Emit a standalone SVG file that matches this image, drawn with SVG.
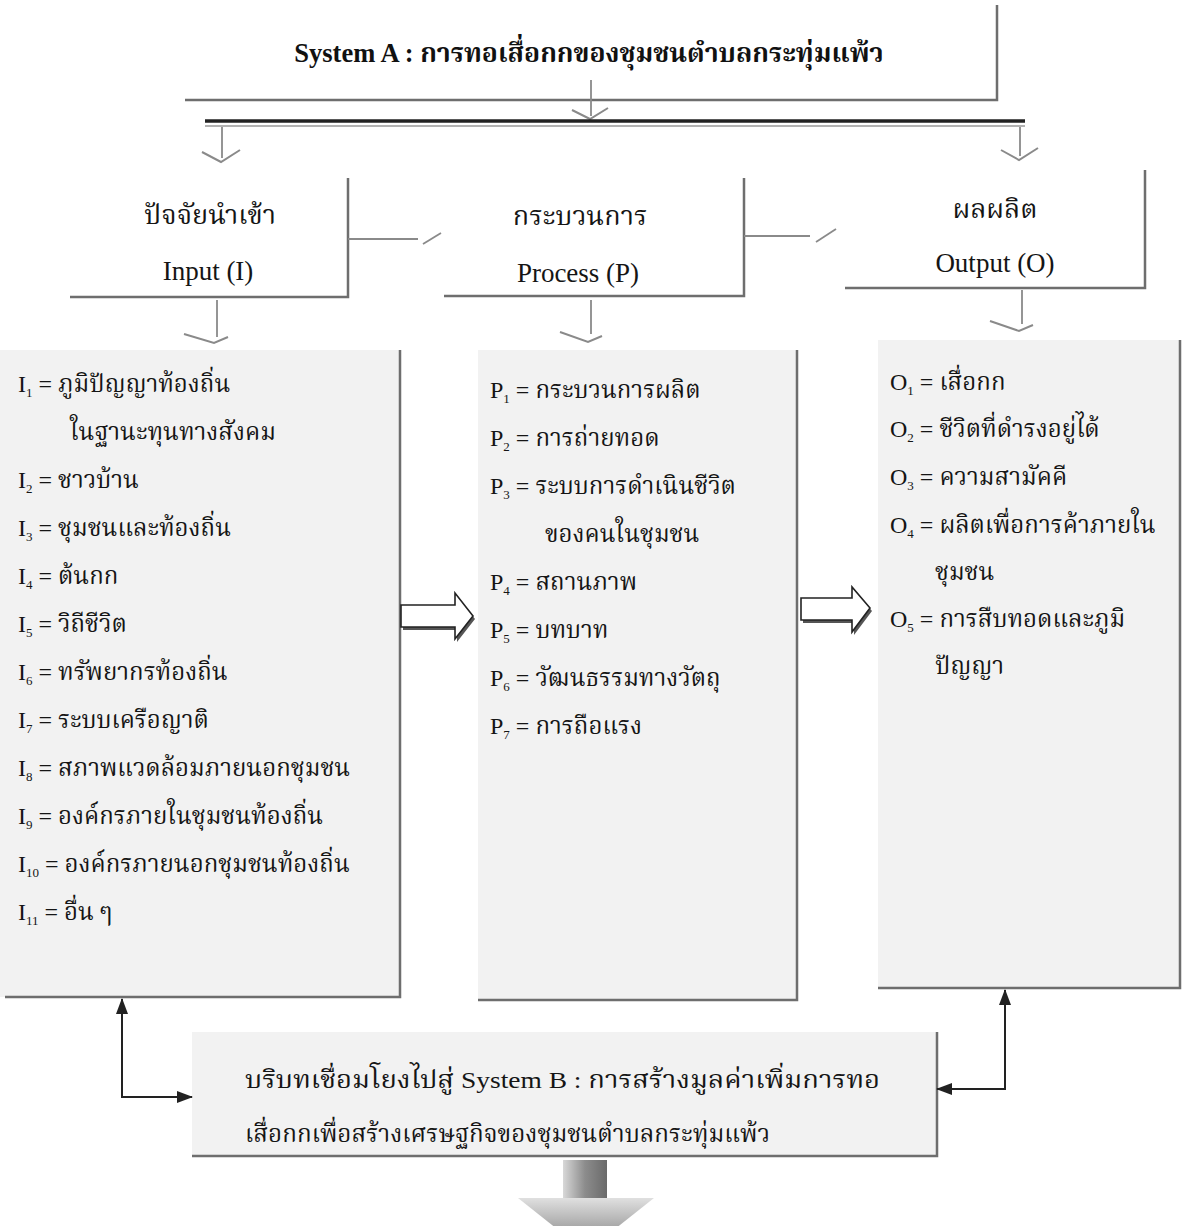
<svg xmlns="http://www.w3.org/2000/svg" width="1188" height="1226" viewBox="0 0 1188 1226">
<style>
.t{font-family:"Liberation Serif","Noto Serif Thai","Noto Sans Thai",serif;font-size:24px;fill:#151515}
.h{font-family:"Liberation Serif","Noto Serif Thai","Noto Sans Thai",serif;font-size:27px;fill:#151515}
.ti{font-family:"Liberation Serif","Noto Serif Thai","Noto Sans Thai",serif;font-size:26.5px;font-weight:bold;fill:#111}
.s{font-size:13px}
.edge{fill:none;stroke:#6e6e6e;stroke-width:2.5}
.bg{fill:#f2f2f2}
.ln{fill:none;stroke:#8a8a8a;stroke-width:1.8}
.chev{fill:none;stroke:#8a8a8a;stroke-width:2}
.blk{fill:none;stroke:#222;stroke-width:2}
</style>
<defs>
<marker id="ah" viewBox="0 0 16 12" refX="15" refY="6" markerWidth="16" markerHeight="12" orient="auto-start-reverse" markerUnits="userSpaceOnUse">
<path d="M0,0 L16,6 L0,12 z" fill="#222"/>
</marker>
<linearGradient id="ga" x1="0" y1="0" x2="1" y2="0">
<stop offset="0" stop-color="#d8d8d8"/><stop offset="0.5" stop-color="#8c8c8c"/><stop offset="1" stop-color="#6a6a6a"/>
</linearGradient>
<linearGradient id="gh" x1="0" y1="0" x2="0" y2="1">
<stop offset="0" stop-color="#e0e0e0"/><stop offset="1" stop-color="#777"/>
</linearGradient>
</defs>
<rect width="1188" height="1226" fill="#fff"/>

<g id="title">
<path class="edge" d="M997,5 V100 H185"/>
<text class="ti" x="589" y="62" text-anchor="middle">System A : การทอเสื่อกกของชุมชนตำบลกระทุ่มแพ้ว</text>
</g>

<g id="input-header">
<path class="edge" d="M348,178 V297 H70"/>
<text class="h" x="210" y="224" text-anchor="middle">ปัจจัยนำเข้า</text>
<text class="h" x="208" y="280" text-anchor="middle">Input (I)</text>
</g>
<g id="process-header">
<path class="edge" d="M744,178 V296 H444"/>
<text class="h" x="580" y="225" text-anchor="middle">กระบวนการ</text>
<text class="h" x="578" y="282" text-anchor="middle">Process (P)</text>
</g>
<g id="output-header">
<path class="edge" d="M1145,170 V288 H845"/>
<text class="h" x="995" y="218" text-anchor="middle">ผลผลิต</text>
<text class="h" x="995" y="272" text-anchor="middle">Output (O)</text>
</g>

<g id="input-list">
<rect class="bg" x="0" y="350" width="400" height="647"/>
<path class="edge" d="M400,350 V997 H5"/>
<text class="t" x="18" y="392">I<tspan class="s" dy="5">1</tspan><tspan dy="-5"> =  ภูมิปัญญาท้องถิ่น</tspan></text>
<text class="t" x="70" y="440">ในฐานะทุนทางสังคม</text>
<text class="t" x="18" y="488">I<tspan class="s" dy="5">2</tspan><tspan dy="-5"> = ชาวบ้าน</tspan></text>
<text class="t" x="18" y="536">I<tspan class="s" dy="5">3</tspan><tspan dy="-5"> = ชุมชนและท้องถิ่น</tspan></text>
<text class="t" x="18" y="584">I<tspan class="s" dy="5">4</tspan><tspan dy="-5">  = ต้นกก</tspan></text>
<text class="t" x="18" y="632">I<tspan class="s" dy="5">5</tspan><tspan dy="-5"> = วิถีชีวิต</tspan></text>
<text class="t" x="18" y="680">I<tspan class="s" dy="5">6</tspan><tspan dy="-5">  = ทรัพยากรท้องถิ่น</tspan></text>
<text class="t" x="18" y="728">I<tspan class="s" dy="5">7</tspan><tspan dy="-5"> = ระบบเครือญาติ</tspan></text>
<text class="t" x="18" y="776">I<tspan class="s" dy="5">8</tspan><tspan dy="-5">  = สภาพแวดล้อมภายนอกชุมชน</tspan></text>
<text class="t" x="18" y="824">I<tspan class="s" dy="5">9</tspan><tspan dy="-5">  = องค์กรภายในชุมชนท้องถิ่น</tspan></text>
<text class="t" x="18" y="872">I<tspan class="s" dy="5">10</tspan><tspan dy="-5"> = องค์กรภายนอกชุมชนท้องถิ่น</tspan></text>
<text class="t" x="18" y="920">I<tspan class="s" dy="5">11</tspan><tspan dy="-5"> = อื่น ๆ</tspan></text>
</g>

<g id="process-list">
<rect class="bg" x="478" y="350" width="319" height="650"/>
<path class="edge" d="M797,350 V1000 H478"/>
<text class="t" x="490" y="398">P<tspan class="s" dy="5">1</tspan><tspan dy="-5"> =  กระบวนการผลิต</tspan></text>
<text class="t" x="490" y="446">P<tspan class="s" dy="5">2</tspan><tspan dy="-5"> =  การถ่ายทอด</tspan></text>
<text class="t" x="490" y="494">P<tspan class="s" dy="5">3</tspan><tspan dy="-5"> =  ระบบการดำเนินชีวิต</tspan></text>
<text class="t" x="545" y="542">ของคนในชุมชน</text>
<text class="t" x="490" y="590">P<tspan class="s" dy="5">4</tspan><tspan dy="-5">  =  สถานภาพ</tspan></text>
<text class="t" x="490" y="638">P<tspan class="s" dy="5">5</tspan><tspan dy="-5">  =  บทบาท</tspan></text>
<text class="t" x="490" y="686">P<tspan class="s" dy="5">6</tspan><tspan dy="-5">  =  วัฒนธรรมทางวัตถุ</tspan></text>
<text class="t" x="490" y="734">P<tspan class="s" dy="5">7</tspan><tspan dy="-5">  =  การถือแรง</tspan></text>
</g>

<g id="output-list">
<rect class="bg" x="878" y="340" width="302" height="648"/>
<path class="edge" d="M1180,340 V988 H878"/>
<text class="t" x="890" y="390">O<tspan class="s" dy="5">1</tspan><tspan dy="-5"> = เสื่อกก</tspan></text>
<text class="t" x="890" y="437">O<tspan class="s" dy="5">2</tspan><tspan dy="-5"> = ชีวิตที่ดำรงอยู่ได้</tspan></text>
<text class="t" x="890" y="485">O<tspan class="s" dy="5">3</tspan><tspan dy="-5"> = ความสามัคคี</tspan></text>
<text class="t" x="890" y="533">O<tspan class="s" dy="5">4</tspan><tspan dy="-5"> = ผลิตเพื่อการค้าภายใน</tspan></text>
<text class="t" x="935" y="580">ชุมชน</text>
<text class="t" x="890" y="627">O<tspan class="s" dy="5">5</tspan><tspan dy="-5"> = การสืบทอดและภูมิ</tspan></text>
<text class="t" x="935" y="674">ปัญญา</text>
</g>

<g id="system-b">
<rect class="bg" x="192" y="1032" width="745" height="124"/>
<path class="edge" d="M937,1032 V1156 H192"/>
<text class="t" x="245" y="1088" font-size="26" textLength="635" lengthAdjust="spacingAndGlyphs">บริบทเชื่อมโยงไปสู่ System B : การสร้างมูลค่าเพิ่มการทอ</text>
<text class="t" x="245" y="1142" font-size="26" textLength="525" lengthAdjust="spacingAndGlyphs">เสื่อกกเพื่อสร้างเศรษฐกิจของชุมชนตำบลกระทุ่มแพ้ว</text>
</g>

<g id="connectors">
<path class="ln" d="M591,80 V116"/>
<path class="chev" d="M572,110 L590,119 L608,108"/>
<path d="M205,121 H1025" stroke="#222" stroke-width="3.5"/>
<path d="M205,126 H1025" stroke="#999" stroke-width="1.5"/>
<path class="ln" d="M222,127 V158"/>
<path class="chev" d="M202,152 L221,162 L240,150"/>
<path class="ln" d="M1020,127 V156"/>
<path class="chev" d="M1001,150 L1019,160 L1038,148"/>
<path class="ln" d="M348,239 H418"/>
<path class="ln" d="M423,244 L441,233"/>
<path class="ln" d="M744,236 H810"/>
<path class="ln" d="M816,242 L836,229"/>
<path class="ln" d="M217,300 V337"/>
<path class="chev" d="M184,334 L214,343 L228,337"/>
<path class="ln" d="M591,300 V334"/>
<path class="chev" d="M560,332 L588,342 L602,336"/>
<path class="ln" d="M1022,290 V324"/>
<path class="chev" d="M990,321 L1019,331 L1033,325"/>
<polygon points="403,608 457,608 457,596 475,619 457,642 457,630 403,630" fill="#555"/>
<polygon points="401,605 455,605 455,593 473,616 455,639 455,627 401,627" fill="#fff" stroke="#222" stroke-width="1.6"/>
<polygon points="803,601 854,601 854,590 872,611 854,635 854,623 803,623" fill="#555"/>
<polygon points="801,598 852,598 852,587 870,608 852,632 852,620 801,620" fill="#fff" stroke="#222" stroke-width="1.6"/>
<path class="blk" d="M122,999 V1097 H192" marker-start="url(#ah)" marker-end="url(#ah)"/>
<path class="blk" d="M1005,990 V1089 H937" marker-start="url(#ah)" marker-end="url(#ah)"/>
<rect x="563" y="1160" width="44" height="40" fill="url(#ga)"/>
<polygon points="518,1198 654,1198 586,1252" fill="url(#gh)"/>
</g>
</svg>
